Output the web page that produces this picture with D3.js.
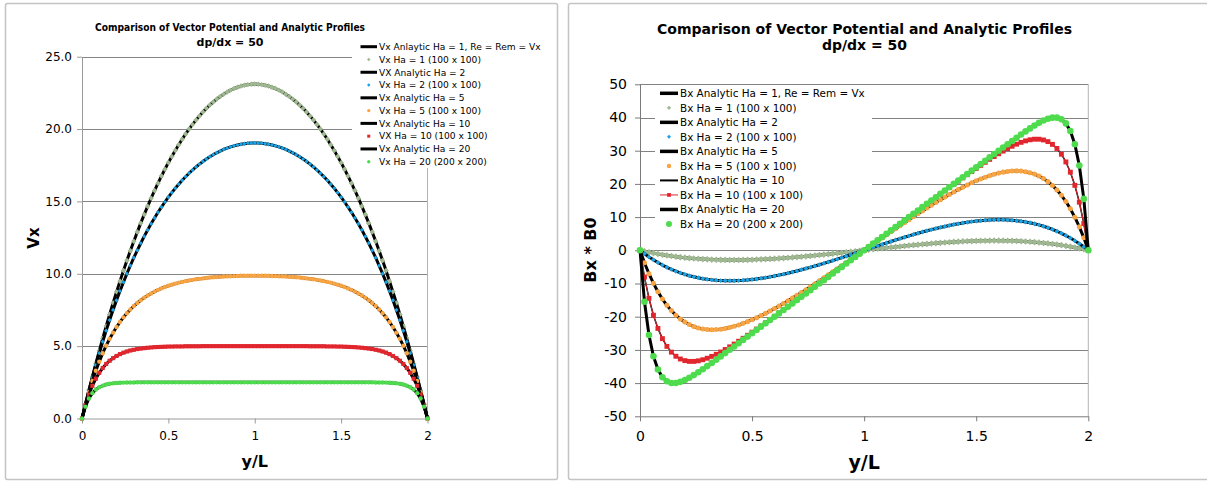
<!DOCTYPE html>
<html><head><meta charset="utf-8">
<script src="https://cdn.jsdelivr.net/npm/d3@7"></script>
<style>html,body{margin:0;padding:0;background:#fff;}svg{display:block;}</style>
</head><body>
<svg id="chart" width="1207" height="483"></svg>
<script>
// ---------------- DATA ----------------
const yOverL = [0,0.02,0.04,0.06,0.08,0.1,0.12,0.14,0.16,0.18,0.2,0.22,0.24,0.26,0.28,0.3,0.32,0.34,0.36,0.38,0.4,0.42,0.44,0.46,0.48,0.5,0.52,0.54,0.56,0.58,0.6,0.62,0.64,0.66,0.68,0.7,0.72,0.74,0.76,0.78,0.8,0.82,0.84,0.86,0.88,0.9,0.92,0.94,0.96,0.98,1,1.02,1.04,1.06,1.08,1.1,1.12,1.14,1.16,1.18,1.2,1.22,1.24,1.26,1.28,1.3,1.32,1.34,1.36,1.38,1.4,1.42,1.44,1.46,1.48,1.5,1.52,1.54,1.56,1.58,1.6,1.62,1.64,1.66,1.68,1.7,1.72,1.74,1.76,1.78,1.8,1.82,1.84,1.86,1.88,1.9,1.92,1.94,1.96,1.98,2];

const vxHa1 = [0,0.99,1.95,2.88,3.79,4.68,5.54,6.38,7.19,7.98,
8.75,9.49,10.22,10.92,11.59,12.25,12.88,13.50,14.09,14.66,
15.22,15.75,16.26,16.75,17.22,17.68,18.11,18.52,18.92,19.30,
19.66,20.00,20.32,20.62,20.91,21.18,21.43,21.66,21.87,22.07,
22.25,22.41,22.56,22.69,22.80,22.89,22.97,23.03,23.07,23.10,
23.11,
23.10,23.07,23.03,22.97,22.89,22.80,22.69,22.56,22.41,22.25,
22.07,21.87,21.66,21.43,21.18,20.91,20.62,20.32,20.00,19.66,
19.30,18.92,18.52,18.11,17.68,17.22,16.75,16.26,15.75,15.22,
14.66,14.09,13.50,12.88,12.25,11.59,10.92,10.22,9.49,8.75,
7.98,7.19,6.38,5.54,4.68,3.79,2.88,1.95,0.99,0];

const vxHa2 = [0,0.98,1.92,2.82,3.68,4.51,5.31,6.07,6.80,7.50,
8.17,8.81,9.42,10.01,10.57,11.11,11.62,12.11,12.58,13.03,
13.45,13.86,14.25,14.61,14.96,15.30,15.61,15.91,16.19,16.46,
16.71,16.95,17.17,17.38,17.58,17.76,17.93,18.09,18.23,18.36,
18.48,18.59,18.68,18.77,18.84,18.90,18.95,18.99,19.02,19.03,
19.04,
19.03,19.02,18.99,18.95,18.90,18.84,18.77,18.68,18.59,18.48,
18.36,18.23,18.09,17.93,17.76,17.58,17.38,17.17,16.95,16.71,
16.46,16.19,15.91,15.61,15.30,14.96,14.61,14.25,13.86,13.45,
13.03,12.58,12.11,11.62,11.11,10.57,10.01,9.42,8.81,8.17,
7.50,6.80,6.07,5.31,4.51,3.68,2.82,1.92,0.98,0];

const vxHa5 = [0,0.95,1.81,2.59,3.30,3.93,4.51,5.03,5.51,5.93,
6.32,6.67,6.99,7.27,7.53,7.77,7.98,8.17,8.35,8.50,
8.64,8.77,8.89,8.99,9.09,9.17,9.25,9.32,9.39,9.44,
9.49,9.54,9.58,9.62,9.65,9.68,9.71,9.74,9.76,9.78,
9.79,9.81,9.82,9.83,9.84,9.85,9.86,9.86,9.86,9.87,
9.87,
9.87,9.86,9.86,9.86,9.85,9.84,9.83,9.82,9.81,9.79,
9.78,9.76,9.74,9.71,9.68,9.65,9.62,9.58,9.54,9.49,
9.44,9.39,9.32,9.25,9.17,9.09,8.99,8.89,8.77,8.64,
8.50,8.35,8.17,7.98,7.77,7.53,7.27,6.99,6.67,6.32,
5.93,5.51,5.03,4.51,3.93,3.30,2.59,1.81,0.95,0];

const vxHa10 = [0,0.91,1.65,2.26,2.75,3.16,3.49,3.77,3.99,4.17,
4.32,4.45,4.55,4.63,4.70,4.75,4.80,4.83,4.86,4.89,
4.91,4.93,4.94,4.95,4.96,4.97,4.97,4.98,4.98,4.98,
4.99,4.99,4.99,4.99,4.99,5.00,5.00,5.00,5.00,5.00,
5.00,5.00,5.00,5.00,5.00,5.00,5.00,5.00,5.00,5.00,
5.00,
5.00,5.00,5.00,5.00,5.00,5.00,5.00,5.00,5.00,5.00,
5.00,5.00,5.00,5.00,5.00,4.99,4.99,4.99,4.99,4.99,
4.98,4.98,4.98,4.97,4.97,4.96,4.95,4.94,4.93,4.91,
4.89,4.86,4.83,4.80,4.75,4.70,4.63,4.55,4.45,4.32,
4.17,3.99,3.77,3.49,3.16,2.75,2.26,1.65,0.91,0];

const vxHa20 = [0,0.82,1.38,1.75,2.00,2.16,2.27,2.35,2.40,2.43,
2.45,2.47,2.48,2.49,2.49,2.49,2.50,2.50,2.50,2.50,
2.50,2.50,2.50,2.50,2.50,2.50,2.50,2.50,2.50,2.50,
2.50,2.50,2.50,2.50,2.50,2.50,2.50,2.50,2.50,2.50,
2.50,2.50,2.50,2.50,2.50,2.50,2.50,2.50,2.50,2.50,
2.50,
2.50,2.50,2.50,2.50,2.50,2.50,2.50,2.50,2.50,2.50,
2.50,2.50,2.50,2.50,2.50,2.50,2.50,2.50,2.50,2.50,
2.50,2.50,2.50,2.50,2.50,2.50,2.50,2.50,2.50,2.50,
2.50,2.50,2.50,2.50,2.49,2.49,2.49,2.48,2.47,2.45,
2.43,2.40,2.35,2.27,2.16,2.00,1.75,1.38,0.82,0];

const bxHa1 = [0,-0.30,-0.59,-0.85,-1.10,-1.33,-1.54,-1.73,-1.91,-2.07,
-2.21,-2.35,-2.46,-2.56,-2.65,-2.73,-2.79,-2.84,-2.87,-2.90,
-2.91,-2.92,-2.91,-2.89,-2.87,-2.83,-2.78,-2.73,-2.67,-2.60,
-2.52,-2.44,-2.35,-2.25,-2.15,-2.04,-1.93,-1.81,-1.69,-1.56,
-1.43,-1.30,-1.16,-1.02,-0.88,-0.74,-0.59,-0.45,-0.30,-0.15,
0,
0.15,0.30,0.45,0.59,0.74,0.88,1.02,1.16,1.30,1.43,
1.56,1.69,1.81,1.93,2.04,2.15,2.25,2.35,2.44,2.52,
2.60,2.67,2.73,2.78,2.83,2.87,2.89,2.91,2.92,2.91,
2.90,2.87,2.84,2.79,2.73,2.65,2.56,2.46,2.35,2.21,
2.07,1.91,1.73,1.54,1.33,1.10,0.85,0.59,0.30,0];

const bxHa2 = [0,-1.04,-1.99,-2.88,-3.69,-4.44,-5.12,-5.74,-6.30,-6.80,
-7.25,-7.65,-7.99,-8.29,-8.54,-8.75,-8.91,-9.04,-9.12,-9.18,
-9.19,-9.17,-9.12,-9.04,-8.93,-8.80,-8.64,-8.45,-8.24,-8.01,
-7.76,-7.48,-7.19,-6.89,-6.56,-6.22,-5.87,-5.50,-5.13,-4.74,
-4.34,-3.93,-3.51,-3.09,-2.66,-2.22,-1.78,-1.34,-0.90,-0.45,
0,
0.45,0.90,1.34,1.78,2.22,2.66,3.09,3.51,3.93,4.34,
4.74,5.13,5.50,5.87,6.22,6.56,6.89,7.19,7.48,7.76,
8.01,8.24,8.45,8.64,8.80,8.93,9.04,9.12,9.17,9.19,
9.18,9.12,9.04,8.91,8.75,8.54,8.29,7.99,7.65,7.25,
6.80,6.30,5.74,5.12,4.44,3.69,2.88,1.99,1.04,0];

const bxHa5 = [0,-3.76,-7.06,-9.96,-12.49,-14.68,-16.56,-18.17,-19.54,-20.68,
-21.61,-22.36,-22.95,-23.38,-23.68,-23.85,-23.92,-23.88,-23.75,-23.54,
-23.25,-22.90,-22.48,-22.01,-21.49,-20.92,-20.32,-19.67,-19.00,-18.29,
-17.56,-16.80,-16.02,-15.22,-14.40,-13.57,-12.72,-11.86,-10.98,-10.10,
-9.21,-8.31,-7.40,-6.49,-5.57,-4.65,-3.72,-2.79,-1.86,-0.93,
0,
0.93,1.86,2.79,3.72,4.65,5.57,6.49,7.40,8.31,9.21,
10.10,10.98,11.86,12.72,13.57,14.40,15.22,16.02,16.80,17.56,
18.29,19.00,19.67,20.32,20.92,21.49,22.01,22.48,22.90,23.25,
23.54,23.75,23.88,23.92,23.85,23.68,23.38,22.95,22.36,21.61,
20.68,19.54,18.17,16.56,14.68,12.49,9.96,7.06,3.76,0];

const bxHa10 = [0,-8.06,-14.48,-19.56,-23.53,-26.61,-28.94,-30.67,-31.91,-32.74,
-33.23,-33.46,-33.46,-33.29,-32.96,-32.51,-31.96,-31.33,-30.63,-29.88,
-29.08,-28.25,-27.39,-26.50,-25.59,-24.66,-23.72,-22.77,-21.82,-20.85,
-19.88,-18.90,-17.92,-16.93,-15.94,-14.95,-13.96,-12.97,-11.98,-10.98,
-9.98,-8.99,-7.99,-6.99,-5.99,-4.99,-4.00,-3.00,-2.00,-1.00,
0,
1.00,2.00,3.00,4.00,4.99,5.99,6.99,7.99,8.99,9.98,
10.98,11.98,12.97,13.96,14.95,15.94,16.93,17.92,18.90,19.88,
20.85,21.82,22.77,23.72,24.66,25.59,26.50,27.39,28.25,29.08,
29.88,30.63,31.33,31.96,32.51,32.96,33.29,33.46,33.46,33.23,
32.74,31.91,30.67,28.94,26.61,23.53,19.56,14.48,8.06,0];

const bxHa20 = [0,-15.48,-25.53,-31.94,-35.91,-38.23,-39.46,-39.96,-39.96,-39.63,
-39.08,-38.39,-37.59,-36.72,-35.82,-34.88,-33.92,-32.94,-31.96,-30.97,
-29.98,-28.99,-27.99,-26.99,-26,-25,-24,-23,-22,-21,
-20,-19,-18,-17,-16,-15,-14,-13,-12,-11,
-10,-9,-8,-7,-6,-5,-4,-3,-2,-1,
0,
1,2,3,4,5,6,7,8,9,10,
11,12,13,14,15,16,17,18,19,20,
21,22,23,24,25,26,26.99,27.99,28.99,29.98,
30.97,31.96,32.94,33.92,34.88,35.82,36.72,37.59,38.39,39.08,
39.63,39.96,39.96,39.46,38.23,35.91,31.94,25.53,15.48,0];

const xTicks = [0, 0.5, 1, 1.5, 2];
const vxTicks = [0, 5, 10, 15, 20, 25];
const bxTicks = [-50, -40, -30, -20, -10, 0, 10, 20, 30, 40, 50];

const titleLines = ["Comparison of Vector Potential and Analytic Profiles", "dp/dx = 50"];
const xTitle = "y/L";
const vxTitle = "Vx";
const bxTitle = "Bx * B0";

const vxLegend = ["Vx Anlaytic Ha = 1, Re = Rem = Vx", "Vx Ha = 1 (100 x 100)",
  "VX Analytic Ha = 2", "Vx Ha = 2 (100 x 100)",
  "Vx Analytic Ha = 5", "Vx Ha = 5 (100 x 100)",
  "Vx Analytic Ha = 10", "VX Ha = 10 (100 x 100)",
  "Vx Analytic Ha = 20", "Vx Ha = 20 (200 x 200)"];
const bxLegend = ["Bx Analytic Ha = 1, Re = Rem = Vx", "Bx Ha = 1 (100 x 100)",
  "Bx Analytic Ha = 2", "Bx Ha = 2 (100 x 100)",
  "Bx Analytic Ha = 5", "Bx Ha = 5 (100 x 100)",
  "Bx Analytic Ha = 10", "Bx Ha = 10 (100 x 100)",
  "Bx Analytic Ha = 20", "Bx Ha = 20 (200 x 200)"];

const haColors = ["#9fb891", "#1aa2e4", "#f8a443", "#e2262e", "#4edc4e"];
const haSymbols = ["diamond", "diamond", "circle", "square", "circle"];

// ---------------- DRAWING ----------------
const FONT = "'DejaVu Sans', Verdana, sans-serif";
const svg = d3.select("#chart");

svg.append("rect").attr("x", 5.5).attr("y", 3.5).attr("width", 552).attr("height", 476)
  .attr("rx", 2).attr("fill", "#fff").attr("stroke", "#c4c4c4").attr("stroke-width", 1.5);
svg.append("rect").attr("x", 568.5).attr("y", 3.5).attr("width", 680).attr("height", 476)
  .attr("rx", 2).attr("fill", "#fff").attr("stroke", "#c4c4c4").attr("stroke-width", 1.5);

function symbolPath(kind, size) {
  if (kind === "circle") return d3.symbol(d3.symbolCircle, size)();
  return d3.symbol(d3.symbolSquare, size)();
}

function drawPanel(o) {
  const g = svg.append("g");
  const x = d3.scaleLinear().domain([0, 2]).range([o.left, o.right]);
  const y = d3.scaleLinear().domain(o.yDomain).range([o.bottom, o.top]);

  // gridlines
  g.append("g").selectAll("line").data(o.yTicks.filter(t => t !== o.yDomain[0])).join("line")
    .attr("x1", o.left).attr("x2", o.right)
    .attr("y1", d => Math.round(y(d)) + 0.5).attr("y2", d => Math.round(y(d)) + 0.5)
    .attr("stroke", o.gridColor).attr("stroke-width", 1);
  // plot-area right border
  g.append("line").attr("x1", o.right).attr("x2", o.right).attr("y1", o.top).attr("y2", o.bottom)
    .attr("stroke", "#b4b4b4").attr("stroke-width", 1);

  // axes
  const ya = d3.axisLeft(y).tickValues(o.yTicks).tickFormat(o.yFmt)
    .tickSize(5).tickSizeOuter(0).tickPadding(o.yPad);
  const yg = g.append("g").attr("transform", `translate(${o.left},0)`).call(ya);
  yg.select(".domain").attr("stroke", o.axisColor);
  yg.selectAll(".tick line").attr("stroke", o.axisColor);
  yg.selectAll("text").attr("font-family", FONT).attr("font-size", o.tickFont).attr("fill", "#000");

  const xa = d3.axisBottom(x).tickValues(xTicks).tickFormat(d => String(d))
    .tickSize(5).tickSizeOuter(0).tickPadding(o.xPad);
  const xg = g.append("g").attr("transform", `translate(0,${o.bottom})`).call(xa);
  xg.select(".domain").attr("stroke", o.axisColor);
  xg.selectAll(".tick line").attr("stroke", o.axisColor);
  xg.selectAll("text").attr("font-family", FONT).attr("font-size", o.tickFont).attr("fill", "#000");

  // series: analytic line then markers, in legend order
  const line = d3.line().x((d, i) => x(yOverL[i])).y(d => y(d));
  o.series.forEach((vals, k) => {
    g.append("path").datum(vals).attr("d", line).attr("fill", "none")
      .attr("stroke", "#000").attr("stroke-width", o.lineWidths[k]).attr("stroke-linejoin", "round");
    if (o.markerLine[k]) {
      g.append("path").datum(vals).attr("d", line).attr("fill", "none")
        .attr("stroke", haColors[k]).attr("stroke-width", 1);
    }
    const sym = symbolPath(haSymbols[k], o.markerSizes[k]);
    const rot = haSymbols[k] === "diamond" ? " rotate(45)" : "";
    g.append("g").selectAll("path").data(vals).join("path")
      .attr("d", sym)
      .attr("transform", (d, i) => `translate(${x(yOverL[i])},${y(d)})${rot}`)
      .attr("fill", haColors[k]);
  });

  // legend
  const lg = g.append("g");
  lg.append("rect").attr("x", o.leg.box[0]).attr("y", o.leg.box[1])
    .attr("width", o.leg.box[2]).attr("height", o.leg.box[3]).attr("fill", "#fff");
  o.legend.forEach((lab, i) => {
    const cy = o.leg.top + i * o.leg.step;
    const k = Math.floor(i / 2);
    if (i % 2 === 0) {
      lg.append("line").attr("x1", o.leg.lx0).attr("x2", o.leg.lx1).attr("y1", cy).attr("y2", cy)
        .attr("stroke", "#000").attr("stroke-width", o.leg.lineW[k]);
    } else {
      if (o.markerLine[k]) {
        lg.append("line").attr("x1", o.leg.lx0).attr("x2", o.leg.lx1).attr("y1", cy).attr("y2", cy)
          .attr("stroke", haColors[k]).attr("stroke-width", 1);
      }
      const rot = haSymbols[k] === "diamond" ? " rotate(45)" : "";
      lg.append("path").attr("d", symbolPath(haSymbols[k], o.leg.markerSizes[k]))
        .attr("transform", `translate(${(o.leg.lx0 + o.leg.lx1) / 2},${cy})${rot}`)
        .attr("fill", haColors[k]);
    }
    lg.append("text").attr("x", o.leg.tx).attr("y", cy).attr("dy", "0.36em")
      .attr("font-family", FONT).attr("font-size", o.leg.font).attr("fill", "#000").text(lab);
  });

  // titles
  const t1 = g.append("text").attr("x", o.titleX).attr("y", o.titleY[0]).attr("text-anchor", "middle")
    .attr("font-family", FONT).attr("font-weight", "bold").attr("font-size", o.titleFont).text(titleLines[0]);
  if (o.titleLen) t1.attr("textLength", o.titleLen).attr("lengthAdjust", "spacingAndGlyphs");
  g.append("text").attr("x", o.titleX).attr("y", o.titleY[1]).attr("text-anchor", "middle")
    .attr("font-family", FONT).attr("font-weight", "bold").attr("font-size", o.titleFont2).text(titleLines[1]);

  g.append("text").attr("x", (o.left + o.right) / 2).attr("y", o.xTitleY).attr("text-anchor", "middle")
    .attr("font-family", FONT).attr("font-weight", "bold").attr("font-size", o.xTitleFont).text(xTitle);
  g.append("text").attr("transform", `translate(${o.yTitleX},${o.yTitleY}) rotate(-90)`)
    .attr("text-anchor", "middle")
    .attr("font-family", FONT).attr("font-weight", "bold").attr("font-size", o.yTitleFont).text(o.yTitle);
}

drawPanel({
  left: 82, right: 427.5, top: 56.7, bottom: 418.5,
  yDomain: [0, 25], yTicks: vxTicks, yFmt: d3.format(".1f"), yPad: 5, xPad: 8,
  tickFont: 12, gridColor: "#858585", axisColor: "#9a9a9a",
  series: [vxHa1, vxHa2, vxHa5, vxHa10, vxHa20],
  lineWidths: [3, 3, 3, 3, 3],
  markerLine: [false, false, false, false, false],
  markerSizes: [15, 9, 15, 17, 15],
  legend: vxLegend,
  leg: { box: [352, 38, 196, 130], top: 46.7, step: 12.78, lx0: 360.5, lx1: 377, tx: 379,
         font: 9.1, lineW: [3, 3, 3, 3, 3], markerSizes: [6, 6, 9, 9, 9] },
  titleX: 230, titleY: [31, 46], titleFont: 11, titleFont2: 11, titleLen: 270,
  xTitleY: 467, xTitleFont: 16, yTitle: vxTitle, yTitleX: 39, yTitleY: 238, yTitleFont: 15
});

drawPanel({
  left: 640, right: 1088.3, top: 84.3, bottom: 416.3,
  yDomain: [-50, 50], yTicks: bxTicks, yFmt: d => String(d), yPad: 8, xPad: 10,
  tickFont: 14, gridColor: "#828282", axisColor: "#7a7a7a",
  series: [bxHa1, bxHa2, bxHa5, bxHa10, bxHa20],
  lineWidths: [3, 3, 3, 1.5, 3],
  markerLine: [false, false, false, true, false],
  markerSizes: [22, 12, 20, 24, 34],
  legend: bxLegend,
  leg: { box: [655, 86, 217, 147], top: 93.3, step: 14.52, lx0: 660, lx1: 678, tx: 680,
         font: 10.4, lineW: [3.5, 3.5, 3.5, 2, 3.5], markerSizes: [9, 8, 16, 14, 28] },
  titleX: 864.5, titleY: [34, 50], titleFont: 14, titleFont2: 14, titleLen: 415,
  xTitleY: 469, xTitleFont: 19, yTitle: bxTitle, yTitleX: 596, yTitleY: 250, yTitleFont: 16
});
</script>
</body></html>
